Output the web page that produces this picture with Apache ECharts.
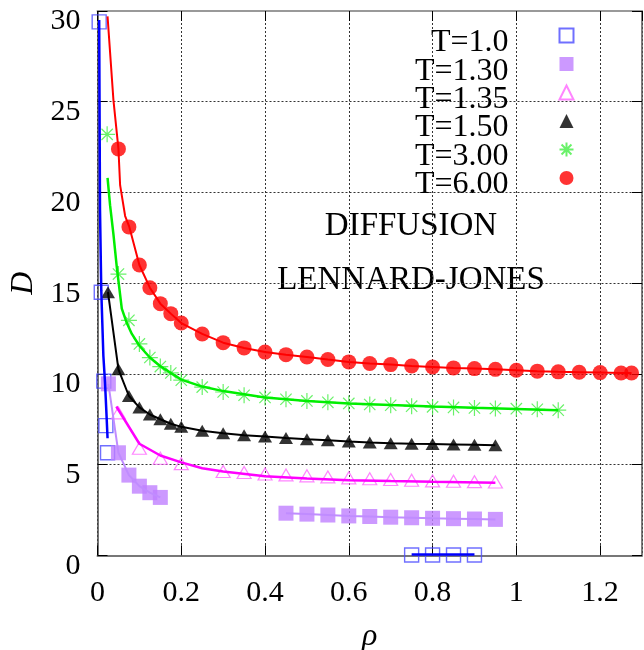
<!DOCTYPE html>
<html>
<head>
<meta charset="utf-8">
<script src="https://cdn.jsdelivr.net/npm/echarts@6/dist/echarts.min.js"></script>
<style>
  html, body { margin: 0; padding: 0; background: #ffffff; }
  #chart { width: 644px; height: 650px; }
</style>
</head>
<body>
<div id="chart"></div>
<script>
// Self-diffusion coefficient D of a Lennard-Jones fluid versus density rho,
// one data set per temperature. Points are [rho, D].

const seriesNames = ['T=1.0', 'T=1.30', 'T=1.35', 'T=1.50', 'T=3.00', 'T=6.00'];

// T = 1.0
const t100Points = [[0.004, 29.4], [0.009, 14.5], [0.015, 9.6], [0.02, 7.15], [0.024, 5.65],
  [0.75, 0.02], [0.8, 0.02], [0.85, 0.02], [0.9, 0.02]];
const t100LineLow = [[0.004, 29.5], [0.006, 19.0], [0.009, 14.6], [0.014, 11.0], [0.018, 9.5],
  [0.021, 8.0], [0.024, 6.45]];
const t100LineHigh = [[0.75, 0.04], [0.9, 0.04]];

// T = 1.30
const t130Low = [[0.026, 9.45], [0.05, 5.65], [0.075, 4.42], [0.1, 3.81], [0.125, 3.45], [0.15, 3.19]];
const t130High = [[0.45, 2.32], [0.5, 2.27], [0.55, 2.22], [0.6, 2.17], [0.65, 2.14], [0.7, 2.1],
  [0.75, 2.07], [0.8, 2.04], [0.85, 2.02], [0.9, 2.0], [0.95, 1.98]];

// T = 1.35
const t135Points = [[0.05, 7.85], [0.1, 5.9], [0.15, 5.35], [0.2, 5.05], [0.3, 4.62], [0.35, 4.56],
  [0.4, 4.48], [0.45, 4.43], [0.5, 4.38], [0.55, 4.32], [0.6, 4.27], [0.65, 4.22], [0.7, 4.18],
  [0.75, 4.14], [0.8, 4.1], [0.85, 4.08], [0.9, 4.06], [0.95, 4.04]];
const t135Line = [[0.045, 8.2], [0.1, 6.15], [0.15, 5.5], [0.2, 5.12], [0.25, 4.8], [0.3, 4.62],
  [0.4, 4.36], [0.5, 4.23], [0.6, 4.14], [0.7, 4.09], [0.8, 4.05], [0.95, 4.0]];

// T = 1.50
const t150Points = [[0.025, 14.5], [0.05, 10.25], [0.075, 8.78], [0.1, 8.15], [0.125, 7.76],
  [0.15, 7.5], [0.175, 7.25], [0.2, 7.08], [0.25, 6.87], [0.3, 6.73], [0.35, 6.62], [0.4, 6.55],
  [0.45, 6.47], [0.5, 6.4], [0.55, 6.34], [0.6, 6.27], [0.65, 6.22], [0.7, 6.18], [0.75, 6.15],
  [0.8, 6.13], [0.85, 6.11], [0.9, 6.09], [0.95, 6.07]];

// T = 3.00
const t300Points = [[0.023, 23.2], [0.05, 15.5], [0.075, 12.95], [0.1, 11.65], [0.125, 10.9],
  [0.15, 10.4], [0.175, 10.05], [0.2, 9.65], [0.25, 9.27], [0.3, 9.0], [0.35, 8.82], [0.4, 8.7],
  [0.45, 8.6], [0.5, 8.51], [0.55, 8.43], [0.6, 8.37], [0.65, 8.31], [0.7, 8.27], [0.75, 8.22],
  [0.8, 8.18], [0.85, 8.15], [0.9, 8.12], [0.95, 8.09], [1.0, 8.08], [1.05, 8.05], [1.1, 8.0]];
const t300Line = [[0.024, 20.8], [0.03, 19.3], [0.038, 17.7], [0.046, 15.9], [0.058, 13.6],
  [0.07, 12.8], [0.082, 12.2], [0.1, 11.55], [0.125, 10.9], [0.15, 10.42], [0.2, 9.68],
  [0.25, 9.3], [0.3, 9.05], [0.4, 8.7], [0.5, 8.5], [0.6, 8.37], [0.7, 8.28], [0.8, 8.2],
  [0.9, 8.13], [1.0, 8.07], [1.1, 8.0]];

// T = 6.00
const t600Points = [[0.05, 22.4], [0.075, 18.1], [0.1, 16.0], [0.125, 14.75], [0.15, 13.87],
  [0.175, 13.32], [0.2, 12.8], [0.25, 12.2], [0.3, 11.72], [0.35, 11.43], [0.4, 11.2],
  [0.45, 11.06], [0.5, 10.93], [0.55, 10.79], [0.6, 10.66], [0.65, 10.57], [0.7, 10.51],
  [0.75, 10.43], [0.8, 10.38], [0.85, 10.33], [0.9, 10.29], [0.95, 10.25], [1.0, 10.2],
  [1.05, 10.15], [1.1, 10.11], [1.15, 10.09], [1.2, 10.07], [1.25, 10.05], [1.275, 10.05]];
const t600Line = [[0.024, 29.7], [0.038, 25.1], [0.05, 22.4], [0.054, 20.4], [0.066, 18.7],
  [0.076, 18.1], [0.1, 16.0], [0.125, 14.75], [0.15, 13.87], [0.175, 13.32], [0.2, 12.8],
  [0.25, 12.2], [0.3, 11.72], [0.35, 11.43], [0.4, 11.2], [0.45, 11.06], [0.5, 10.93],
  [0.55, 10.79], [0.6, 10.66], [0.65, 10.57], [0.7, 10.51], [0.75, 10.43], [0.8, 10.38],
  [0.85, 10.33], [0.9, 10.29], [0.95, 10.25], [1.0, 10.2], [1.05, 10.15], [1.1, 10.11],
  [1.15, 10.09], [1.2, 10.07], [1.25, 10.05], [1.275, 10.05]];

// axis ranges
const xMin = 0, xMax = 1.3, xStep = 0.2;
const yMin = 0, yMax = 30, yStep = 5;

const annotations = ['DIFFUSION', 'LENNARD-JONES'];

const SERIF = '"Liberation Serif", "DejaVu Serif", serif';
const STAR = 'path://M8 0L8 16M0 8L16 8M2.34 2.34L13.66 13.66M2.34 13.66L13.66 2.34';

function fitLine(name, data, color, width) {
  return {
    name: name, type: 'line', data: data, showSymbol: false, symbol: 'none',
    lineStyle: { color: color, width: width }, z: 4, silent: true, animation: false
  };
}
function pointSet(name, data, symbol, size, style) {
  return {
    name: name, type: 'scatter', data: data, symbol: symbol, symbolSize: size,
    itemStyle: style, z: 3, silent: true, animation: false
  };
}
function ticksInward() {
  return { show: true, inside: true, length: 10, lineStyle: { color: '#000', width: 1 } };
}
function gridLines() {
  return { show: true, lineStyle: { color: '#333', type: [2, 2], width: 1 } };
}
function frameLine(color, width) {
  return { show: true, onZero: false, lineStyle: { color: color, width: width } };
}

const chart = echarts.init(document.getElementById('chart'), null, { renderer: 'canvas' });

chart.setOption({
  backgroundColor: '#ffffff',
  animation: false,
  grid: { left: 97.5, right: 2, top: 11, bottom: 94.7, containLabel: false, outerBoundsMode: 'none' },
  legend: [{
    // marker column
    data: seriesNames,
    orient: 'vertical',
    right: 68, top: 26,
    padding: 0,
    itemWidth: 14, itemHeight: 14,
    itemGap: 12,
    selectedMode: false,
    formatter: () => '',
    textStyle: { fontSize: 1 }
  }, {
    // label column, right-aligned
    data: seriesNames,
    orient: 'vertical',
    align: 'right',
    right: 128, top: 27,
    padding: 0,
    itemWidth: 0, itemHeight: 0,
    itemGap: -3.7,
    selectedMode: false,
    itemStyle: { opacity: 0 },
    lineStyle: { opacity: 0 },
    textStyle: { fontFamily: SERIF, fontSize: 32, color: '#000' }
  }],
  xAxis: [{
    type: 'value', position: 'bottom', min: xMin, max: xMax, interval: xStep,
    name: 'ρ', nameLocation: 'middle', nameGap: 65,
    nameTextStyle: { fontFamily: SERIF, fontStyle: 'italic', fontSize: 32, color: '#000' },
    axisLine: frameLine('#777', 2),
    axisTick: ticksInward(),
    splitLine: gridLines(),
    axisLabel: {
      fontFamily: SERIF, fontSize: 30, color: '#000', margin: 23, showMaxLabel: false,
      formatter: v => (v > xMax - 0.05 ? '' : String(Math.round(v * 10) / 10))
    }
  }, {
    type: 'value', position: 'top', min: xMin, max: xMax, interval: xStep,
    axisLine: frameLine('#999', 2),
    axisTick: ticksInward(), axisLabel: { show: false }, splitLine: { show: false }
  }],
  yAxis: [{
    type: 'value', position: 'left', min: yMin, max: yMax, interval: yStep,
    name: 'D', nameLocation: 'middle', nameGap: 51,
    nameTextStyle: { fontFamily: SERIF, fontStyle: 'italic', fontSize: 32, color: '#000' },
    axisLine: frameLine('#444', 1.5),
    axisTick: ticksInward(),
    splitLine: gridLines(),
    axisLabel: {
      fontFamily: SERIF, fontSize: 30, color: '#000', margin: 17,
      verticalAlign: 'top', lineHeight: 21
    }
  }, {
    type: 'value', position: 'right', min: yMin, max: yMax, interval: yStep,
    axisLine: frameLine('#555', 1.5),
    axisTick: ticksInward(), axisLabel: { show: false }, splitLine: { show: false }
  }],
  graphic: [
    { type: 'text', x: 411, y: 226, silent: true,
      style: { text: annotations[0], fontFamily: SERIF, fontSize: 33, fill: '#000',
               align: 'center', verticalAlign: 'middle' } },
    { type: 'text', x: 411, y: 280, silent: true,
      style: { text: annotations[1], fontFamily: SERIF, fontSize: 33, fill: '#000',
               align: 'center', verticalAlign: 'middle' } }
  ],
  series: [
    pointSet(seriesNames[0], t100Points, 'rect', 14,
      { color: 'none', borderColor: '#4b4bff', borderWidth: 1.4 }),
    pointSet(seriesNames[1], t130Low.concat(t130High), 'rect', 15, { color: '#bf80ff' }),
    pointSet(seriesNames[2], t135Points, 'triangle', [14, 12],
      { color: 'none', borderColor: '#ff66ff', borderWidth: 1.2 }),
    pointSet(seriesNames[3], t150Points, 'triangle', [14, 12], { color: '#000000' }),
    pointSet(seriesNames[4], t300Points, STAR, 16,
      { color: 'none', borderColor: '#44ee44', borderWidth: 1.2 }),
    pointSet(seriesNames[5], t600Points, 'circle', 15, { color: '#ff0000' }),

    fitLine('fit 1.0 a', t100LineLow, '#0000ff', 2.5),
    fitLine('fit 1.0 b', t100LineHigh, '#0000ff', 2.5),
    fitLine('fit 1.30 a', t130Low, '#c08cff', 2),
    fitLine('fit 1.30 b', t130High, '#c08cff', 2),
    fitLine('fit 1.35', t135Line, '#ff00ff', 2.5),
    fitLine('fit 1.50', t150Points, '#000000', 2),
    fitLine('fit 3.00', t300Line, '#00ee00', 2.5),
    fitLine('fit 6.00', t600Line, '#ff0000', 2)
  ]
});
</script>
</body>
</html>
